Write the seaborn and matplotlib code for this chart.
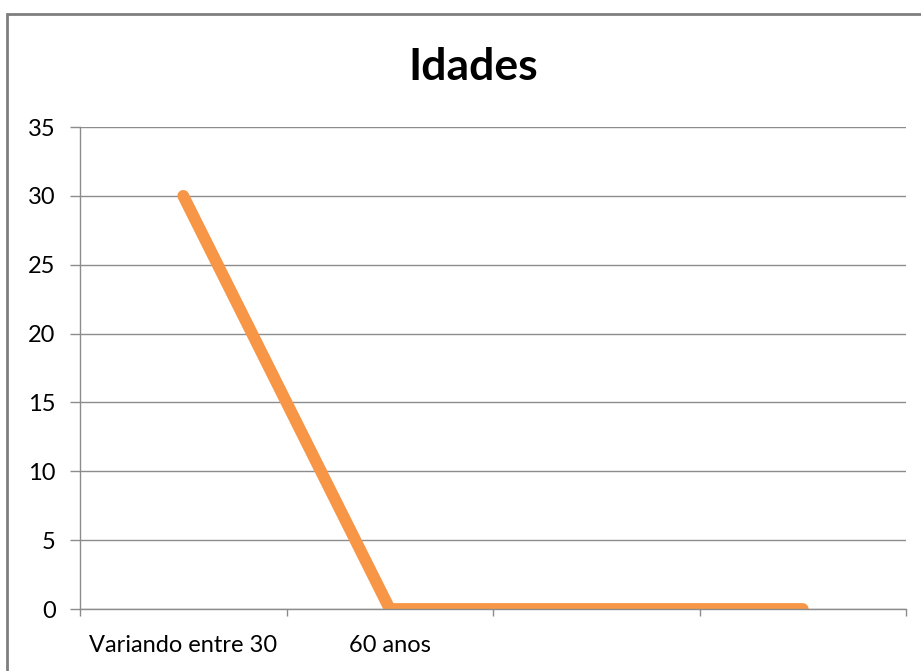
import matplotlib
matplotlib.use("Agg")
import matplotlib.pyplot as plt
import seaborn as sns
import pandas as pd
from matplotlib.patches import Rectangle

categories = ["Variando entre 30", "60 anos", "", ""]
values = [30, 0, 0, 0]
yticks = [0, 5, 10, 15, 20, 25, 30, 35]

sns.set_style("white")
plt.rcParams['font.family'] = ['Lato', 'DejaVu Sans']

fig = plt.figure(figsize=(9.21, 6.71), dpi=100)
W, H = 921, 671
ax = fig.add_axes([80 / W, 1 - 609 / H, (906 - 80) / W, (609 - 127) / H])

df = pd.DataFrame({"pos": list(range(len(categories))), "value": values})
sns.lineplot(data=df, x="pos", y="value", ax=ax, color="#F79646", linewidth=8.5,
             solid_capstyle="round", solid_joinstyle="miter", sort=False)

ax.set_xlim(-0.5, len(categories) - 0.5)
ax.set_ylim(0, 35)
ax.set_yticks(yticks)
ax.set_yticklabels([str(v) for v in yticks], fontsize=17, color="#000000")
ax.yaxis.grid(True, color="#8c8c8c", linewidth=1)
ax.set_axisbelow(True)

ax.set_xticks(range(len(categories)))
ax.set_xticklabels(categories, fontsize=17, color="#000000")
ax.tick_params(axis="x", which="major", length=0, pad=19)
ax.set_xticks([i - 0.5 for i in range(len(categories) + 1)], minor=True)
ax.tick_params(axis="x", which="minor", length=5, color="#8c8c8c", width=1, bottom=True)
ax.tick_params(axis="y", which="major", length=7.5, color="#8c8c8c", width=1, left=True, pad=10)

for s in ["top", "right"]:
    ax.spines[s].set_visible(False)
for s in ["left", "bottom"]:
    ax.spines[s].set_color("#8c8c8c")
    ax.spines[s].set_linewidth(1)

ax.set_xlabel("")
ax.set_ylabel("")

fig.text(473 / W, 1 - 67 / H, "Idades", ha="center", va="center", fontsize=32,
         fontweight="bold", color="#000000")

frame = Rectangle((7 / W, -0.1), 1.2, 1 - 14 / H + 0.1, transform=fig.transFigure,
                  fill=False, edgecolor="#7f7f7f", linewidth=2, clip_on=False)
fig.patches.append(frame)

fig.savefig("out.png", dpi=100)
